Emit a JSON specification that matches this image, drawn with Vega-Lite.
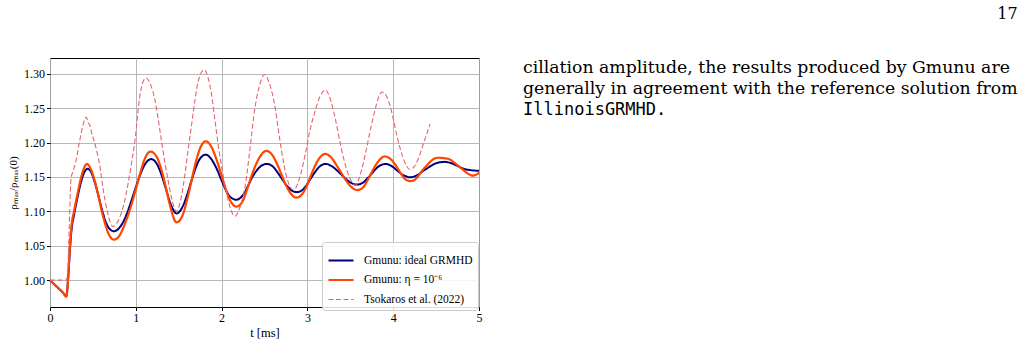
{
  "$schema": "https://vega.github.io/schema/vega-lite/v6.json",
  "padding": {"left": 7, "top": 5, "right": 5, "bottom": 5},
  "title": {"text": "17", "anchor": "end", "frame": "bounds", "font": "DejaVu Serif", "fontSize": 16, "fontWeight": "normal", "color": "#000", "offset": 36},
  "spacing": 39,
  "config": {
    "view": {"stroke": null},
    "axis": {"grid": true, "gridColor": "#b0b0b0", "gridWidth": 0.9, "domain": false, "tickColor": "#000", "tickSize": 3.5, "labelFont": "Liberation Serif", "labelFontSize": 12, "labelColor": "#000", "titleFont": "Liberation Serif", "titleFontSize": 11, "titleFontWeight": "normal", "titleColor": "#000", "labelPadding": 2},
    "legend": {"orient": "none", "legendX": 272, "legendY": 184, "fillColor": "rgba(255,255,255,0.85)", "strokeColor": "#cccccc", "cornerRadius": 3, "padding": 5, "labelFont": "Liberation Serif", "labelFontSize": 11.5, "labelColor": "#000", "symbolType": "stroke", "symbolSize": 625, "rowPadding": -2, "labelOffset": 9, "labelLimit": 300, "title": null}
  },
  "hconcat": [
    {
      "width": 429,
      "height": 249,
      "view": {"stroke": "#000", "strokeWidth": 1},
      "data": {"values": [
        {"series": "Gmunu: ideal GRMHD", "t": 0, "rho": 1.000},
        {"series": "Gmunu: ideal GRMHD", "t": 0.05, "rho": 0.994},
        {"series": "Gmunu: ideal GRMHD", "t": 0.10, "rho": 0.988},
        {"series": "Gmunu: ideal GRMHD", "t": 0.15, "rho": 0.982},
        {"series": "Gmunu: ideal GRMHD", "t": 0.19, "rho": 0.977},
        {"series": "Gmunu: ideal GRMHD", "t": 0.21, "rho": 1.000},
        {"series": "Gmunu: ideal GRMHD", "t": 0.23, "rho": 1.040},
        {"series": "Gmunu: ideal GRMHD", "t": 0.25, "rho": 1.072},
        {"series": "Gmunu: ideal GRMHD", "t": 0.28, "rho": 1.095},
        {"series": "Gmunu: ideal GRMHD", "t": 0.32, "rho": 1.120},
        {"series": "Gmunu: ideal GRMHD", "t": 0.36, "rho": 1.142},
        {"series": "Gmunu: ideal GRMHD", "t": 0.40, "rho": 1.157},
        {"series": "Gmunu: ideal GRMHD", "t": 0.44, "rho": 1.162},
        {"series": "Gmunu: ideal GRMHD", "t": 0.48, "rho": 1.157},
        {"series": "Gmunu: ideal GRMHD", "t": 0.52, "rho": 1.143},
        {"series": "Gmunu: ideal GRMHD", "t": 0.56, "rho": 1.125},
        {"series": "Gmunu: ideal GRMHD", "t": 0.60, "rho": 1.105},
        {"series": "Gmunu: ideal GRMHD", "t": 0.64, "rho": 1.088},
        {"series": "Gmunu: ideal GRMHD", "t": 0.68, "rho": 1.077},
        {"series": "Gmunu: ideal GRMHD", "t": 0.745, "rho": 1.071},
        {"series": "Gmunu: ideal GRMHD", "t": 0.80, "rho": 1.075},
        {"series": "Gmunu: ideal GRMHD", "t": 0.85, "rho": 1.084},
        {"series": "Gmunu: ideal GRMHD", "t": 0.90, "rho": 1.098},
        {"series": "Gmunu: ideal GRMHD", "t": 0.95, "rho": 1.116},
        {"series": "Gmunu: ideal GRMHD", "t": 1.00, "rho": 1.135},
        {"series": "Gmunu: ideal GRMHD", "t": 1.05, "rho": 1.153},
        {"series": "Gmunu: ideal GRMHD", "t": 1.10, "rho": 1.167},
        {"series": "Gmunu: ideal GRMHD", "t": 1.18, "rho": 1.176},
        {"series": "Gmunu: ideal GRMHD", "t": 1.25, "rho": 1.168},
        {"series": "Gmunu: ideal GRMHD", "t": 1.30, "rho": 1.153},
        {"series": "Gmunu: ideal GRMHD", "t": 1.35, "rho": 1.133},
        {"series": "Gmunu: ideal GRMHD", "t": 1.40, "rho": 1.113},
        {"series": "Gmunu: ideal GRMHD", "t": 1.475, "rho": 1.097},
        {"series": "Gmunu: ideal GRMHD", "t": 1.55, "rho": 1.108},
        {"series": "Gmunu: ideal GRMHD", "t": 1.60, "rho": 1.125},
        {"series": "Gmunu: ideal GRMHD", "t": 1.65, "rho": 1.145},
        {"series": "Gmunu: ideal GRMHD", "t": 1.70, "rho": 1.164},
        {"series": "Gmunu: ideal GRMHD", "t": 1.75, "rho": 1.177},
        {"series": "Gmunu: ideal GRMHD", "t": 1.817, "rho": 1.1825},
        {"series": "Gmunu: ideal GRMHD", "t": 1.88, "rho": 1.176},
        {"series": "Gmunu: ideal GRMHD", "t": 1.95, "rho": 1.160},
        {"series": "Gmunu: ideal GRMHD", "t": 2.00, "rho": 1.145},
        {"series": "Gmunu: ideal GRMHD", "t": 2.05, "rho": 1.131},
        {"series": "Gmunu: ideal GRMHD", "t": 2.10, "rho": 1.121},
        {"series": "Gmunu: ideal GRMHD", "t": 2.174, "rho": 1.117},
        {"series": "Gmunu: ideal GRMHD", "t": 2.25, "rho": 1.124},
        {"series": "Gmunu: ideal GRMHD", "t": 2.30, "rho": 1.135},
        {"series": "Gmunu: ideal GRMHD", "t": 2.35, "rho": 1.148},
        {"series": "Gmunu: ideal GRMHD", "t": 2.40, "rho": 1.158},
        {"series": "Gmunu: ideal GRMHD", "t": 2.45, "rho": 1.165},
        {"series": "Gmunu: ideal GRMHD", "t": 2.527, "rho": 1.169},
        {"series": "Gmunu: ideal GRMHD", "t": 2.60, "rho": 1.165},
        {"series": "Gmunu: ideal GRMHD", "t": 2.65, "rho": 1.157},
        {"series": "Gmunu: ideal GRMHD", "t": 2.70, "rho": 1.148},
        {"series": "Gmunu: ideal GRMHD", "t": 2.75, "rho": 1.139},
        {"series": "Gmunu: ideal GRMHD", "t": 2.80, "rho": 1.132},
        {"series": "Gmunu: ideal GRMHD", "t": 2.877, "rho": 1.128},
        {"series": "Gmunu: ideal GRMHD", "t": 2.95, "rho": 1.132},
        {"series": "Gmunu: ideal GRMHD", "t": 3.00, "rho": 1.140},
        {"series": "Gmunu: ideal GRMHD", "t": 3.05, "rho": 1.150},
        {"series": "Gmunu: ideal GRMHD", "t": 3.10, "rho": 1.159},
        {"series": "Gmunu: ideal GRMHD", "t": 3.15, "rho": 1.166},
        {"series": "Gmunu: ideal GRMHD", "t": 3.215, "rho": 1.169},
        {"series": "Gmunu: ideal GRMHD", "t": 3.28, "rho": 1.166},
        {"series": "Gmunu: ideal GRMHD", "t": 3.35, "rho": 1.159},
        {"series": "Gmunu: ideal GRMHD", "t": 3.40, "rho": 1.153},
        {"series": "Gmunu: ideal GRMHD", "t": 3.45, "rho": 1.147},
        {"series": "Gmunu: ideal GRMHD", "t": 3.50, "rho": 1.142},
        {"series": "Gmunu: ideal GRMHD", "t": 3.576, "rho": 1.139},
        {"series": "Gmunu: ideal GRMHD", "t": 3.65, "rho": 1.142},
        {"series": "Gmunu: ideal GRMHD", "t": 3.70, "rho": 1.148},
        {"series": "Gmunu: ideal GRMHD", "t": 3.75, "rho": 1.155},
        {"series": "Gmunu: ideal GRMHD", "t": 3.80, "rho": 1.162},
        {"series": "Gmunu: ideal GRMHD", "t": 3.85, "rho": 1.167},
        {"series": "Gmunu: ideal GRMHD", "t": 3.913, "rho": 1.169},
        {"series": "Gmunu: ideal GRMHD", "t": 3.98, "rho": 1.166},
        {"series": "Gmunu: ideal GRMHD", "t": 4.05, "rho": 1.159},
        {"series": "Gmunu: ideal GRMHD", "t": 4.10, "rho": 1.154},
        {"series": "Gmunu: ideal GRMHD", "t": 4.15, "rho": 1.151},
        {"series": "Gmunu: ideal GRMHD", "t": 4.193, "rho": 1.1495},
        {"series": "Gmunu: ideal GRMHD", "t": 4.25, "rho": 1.151},
        {"series": "Gmunu: ideal GRMHD", "t": 4.30, "rho": 1.154},
        {"series": "Gmunu: ideal GRMHD", "t": 4.35, "rho": 1.159},
        {"series": "Gmunu: ideal GRMHD", "t": 4.40, "rho": 1.163},
        {"series": "Gmunu: ideal GRMHD", "t": 4.45, "rho": 1.167},
        {"series": "Gmunu: ideal GRMHD", "t": 4.50, "rho": 1.170},
        {"series": "Gmunu: ideal GRMHD", "t": 4.60, "rho": 1.172},
        {"series": "Gmunu: ideal GRMHD", "t": 4.70, "rho": 1.169},
        {"series": "Gmunu: ideal GRMHD", "t": 4.75, "rho": 1.166},
        {"series": "Gmunu: ideal GRMHD", "t": 4.80, "rho": 1.163},
        {"series": "Gmunu: ideal GRMHD", "t": 4.85, "rho": 1.161},
        {"series": "Gmunu: ideal GRMHD", "t": 4.90, "rho": 1.160},
        {"series": "Gmunu: ideal GRMHD", "t": 5.00, "rho": 1.159},

        {"series": "Gmunu: η = 10⁻⁶", "t": 0, "rho": 1.000},
        {"series": "Gmunu: η = 10⁻⁶", "t": 0.05, "rho": 0.994},
        {"series": "Gmunu: η = 10⁻⁶", "t": 0.10, "rho": 0.988},
        {"series": "Gmunu: η = 10⁻⁶", "t": 0.15, "rho": 0.982},
        {"series": "Gmunu: η = 10⁻⁶", "t": 0.19, "rho": 0.976},
        {"series": "Gmunu: η = 10⁻⁶", "t": 0.21, "rho": 1.000},
        {"series": "Gmunu: η = 10⁻⁶", "t": 0.23, "rho": 1.045},
        {"series": "Gmunu: η = 10⁻⁶", "t": 0.25, "rho": 1.078},
        {"series": "Gmunu: η = 10⁻⁶", "t": 0.28, "rho": 1.100},
        {"series": "Gmunu: η = 10⁻⁶", "t": 0.32, "rho": 1.125},
        {"series": "Gmunu: η = 10⁻⁶", "t": 0.36, "rho": 1.148},
        {"series": "Gmunu: η = 10⁻⁶", "t": 0.40, "rho": 1.164},
        {"series": "Gmunu: η = 10⁻⁶", "t": 0.43, "rho": 1.169},
        {"series": "Gmunu: η = 10⁻⁶", "t": 0.47, "rho": 1.163},
        {"series": "Gmunu: η = 10⁻⁶", "t": 0.52, "rho": 1.145},
        {"series": "Gmunu: η = 10⁻⁶", "t": 0.56, "rho": 1.125},
        {"series": "Gmunu: η = 10⁻⁶", "t": 0.60, "rho": 1.102},
        {"series": "Gmunu: η = 10⁻⁶", "t": 0.64, "rho": 1.083},
        {"series": "Gmunu: η = 10⁻⁶", "t": 0.68, "rho": 1.068},
        {"series": "Gmunu: η = 10⁻⁶", "t": 0.745, "rho": 1.059},
        {"series": "Gmunu: η = 10⁻⁶", "t": 0.80, "rho": 1.063},
        {"series": "Gmunu: η = 10⁻⁶", "t": 0.85, "rho": 1.075},
        {"series": "Gmunu: η = 10⁻⁶", "t": 0.90, "rho": 1.091},
        {"series": "Gmunu: η = 10⁻⁶", "t": 0.95, "rho": 1.110},
        {"series": "Gmunu: η = 10⁻⁶", "t": 1.00, "rho": 1.132},
        {"series": "Gmunu: η = 10⁻⁶", "t": 1.05, "rho": 1.155},
        {"series": "Gmunu: η = 10⁻⁶", "t": 1.10, "rho": 1.175},
        {"series": "Gmunu: η = 10⁻⁶", "t": 1.17, "rho": 1.187},
        {"series": "Gmunu: η = 10⁻⁶", "t": 1.24, "rho": 1.180},
        {"series": "Gmunu: η = 10⁻⁶", "t": 1.30, "rho": 1.160},
        {"series": "Gmunu: η = 10⁻⁶", "t": 1.35, "rho": 1.135},
        {"series": "Gmunu: η = 10⁻⁶", "t": 1.40, "rho": 1.108},
        {"series": "Gmunu: η = 10⁻⁶", "t": 1.475, "rho": 1.084},
        {"series": "Gmunu: η = 10⁻⁶", "t": 1.55, "rho": 1.096},
        {"series": "Gmunu: η = 10⁻⁶", "t": 1.60, "rho": 1.118},
        {"series": "Gmunu: η = 10⁻⁶", "t": 1.65, "rho": 1.145},
        {"series": "Gmunu: η = 10⁻⁶", "t": 1.70, "rho": 1.172},
        {"series": "Gmunu: η = 10⁻⁶", "t": 1.75, "rho": 1.192},
        {"series": "Gmunu: η = 10⁻⁶", "t": 1.817, "rho": 1.202},
        {"series": "Gmunu: η = 10⁻⁶", "t": 1.88, "rho": 1.194},
        {"series": "Gmunu: η = 10⁻⁶", "t": 1.95, "rho": 1.172},
        {"series": "Gmunu: η = 10⁻⁶", "t": 2.00, "rho": 1.152},
        {"series": "Gmunu: η = 10⁻⁶", "t": 2.05, "rho": 1.132},
        {"series": "Gmunu: η = 10⁻⁶", "t": 2.10, "rho": 1.116},
        {"series": "Gmunu: η = 10⁻⁶", "t": 2.174, "rho": 1.107},
        {"series": "Gmunu: η = 10⁻⁶", "t": 2.25, "rho": 1.116},
        {"series": "Gmunu: η = 10⁻⁶", "t": 2.30, "rho": 1.133},
        {"series": "Gmunu: η = 10⁻⁶", "t": 2.35, "rho": 1.152},
        {"series": "Gmunu: η = 10⁻⁶", "t": 2.40, "rho": 1.168},
        {"series": "Gmunu: η = 10⁻⁶", "t": 2.45, "rho": 1.180},
        {"series": "Gmunu: η = 10⁻⁶", "t": 2.52, "rho": 1.188},
        {"series": "Gmunu: η = 10⁻⁶", "t": 2.59, "rho": 1.182},
        {"series": "Gmunu: η = 10⁻⁶", "t": 2.65, "rho": 1.168},
        {"series": "Gmunu: η = 10⁻⁶", "t": 2.70, "rho": 1.153},
        {"series": "Gmunu: η = 10⁻⁶", "t": 2.75, "rho": 1.138},
        {"series": "Gmunu: η = 10⁻⁶", "t": 2.80, "rho": 1.127},
        {"series": "Gmunu: η = 10⁻⁶", "t": 2.87, "rho": 1.120},
        {"series": "Gmunu: η = 10⁻⁶", "t": 2.95, "rho": 1.127},
        {"series": "Gmunu: η = 10⁻⁶", "t": 3.00, "rho": 1.139},
        {"series": "Gmunu: η = 10⁻⁶", "t": 3.05, "rho": 1.155},
        {"series": "Gmunu: η = 10⁻⁶", "t": 3.10, "rho": 1.169},
        {"series": "Gmunu: η = 10⁻⁶", "t": 3.15, "rho": 1.179},
        {"series": "Gmunu: η = 10⁻⁶", "t": 3.21, "rho": 1.1835},
        {"series": "Gmunu: η = 10⁻⁶", "t": 3.28, "rho": 1.178},
        {"series": "Gmunu: η = 10⁻⁶", "t": 3.35, "rho": 1.165},
        {"series": "Gmunu: η = 10⁻⁶", "t": 3.40, "rho": 1.155},
        {"series": "Gmunu: η = 10⁻⁶", "t": 3.45, "rho": 1.145},
        {"series": "Gmunu: η = 10⁻⁶", "t": 3.50, "rho": 1.137},
        {"series": "Gmunu: η = 10⁻⁶", "t": 3.58, "rho": 1.131},
        {"series": "Gmunu: η = 10⁻⁶", "t": 3.65, "rho": 1.135},
        {"series": "Gmunu: η = 10⁻⁶", "t": 3.70, "rho": 1.145},
        {"series": "Gmunu: η = 10⁻⁶", "t": 3.75, "rho": 1.157},
        {"series": "Gmunu: η = 10⁻⁶", "t": 3.80, "rho": 1.168},
        {"series": "Gmunu: η = 10⁻⁶", "t": 3.85, "rho": 1.176},
        {"series": "Gmunu: η = 10⁻⁶", "t": 3.90, "rho": 1.180},
        {"series": "Gmunu: η = 10⁻⁶", "t": 3.97, "rho": 1.176},
        {"series": "Gmunu: η = 10⁻⁶", "t": 4.05, "rho": 1.163},
        {"series": "Gmunu: η = 10⁻⁶", "t": 4.10, "rho": 1.153},
        {"series": "Gmunu: η = 10⁻⁶", "t": 4.15, "rho": 1.146},
        {"series": "Gmunu: η = 10⁻⁶", "t": 4.20, "rho": 1.144},
        {"series": "Gmunu: η = 10⁻⁶", "t": 4.27, "rho": 1.148},
        {"series": "Gmunu: η = 10⁻⁶", "t": 4.33, "rho": 1.158},
        {"series": "Gmunu: η = 10⁻⁶", "t": 4.40, "rho": 1.168},
        {"series": "Gmunu: η = 10⁻⁶", "t": 4.47, "rho": 1.176},
        {"series": "Gmunu: η = 10⁻⁶", "t": 4.52, "rho": 1.178},
        {"series": "Gmunu: η = 10⁻⁶", "t": 4.58, "rho": 1.1775},
        {"series": "Gmunu: η = 10⁻⁶", "t": 4.65, "rho": 1.176},
        {"series": "Gmunu: η = 10⁻⁶", "t": 4.72, "rho": 1.170},
        {"series": "Gmunu: η = 10⁻⁶", "t": 4.80, "rho": 1.162},
        {"series": "Gmunu: η = 10⁻⁶", "t": 4.87, "rho": 1.155},
        {"series": "Gmunu: η = 10⁻⁶", "t": 4.93, "rho": 1.152},
        {"series": "Gmunu: η = 10⁻⁶", "t": 5.00, "rho": 1.156},

        {"series": "Tsokaros et al. (2022)", "t": 0, "rho": 1.000},
        {"series": "Tsokaros et al. (2022)", "t": 0.10, "rho": 1.000},
        {"series": "Tsokaros et al. (2022)", "t": 0.19, "rho": 1.000},
        {"series": "Tsokaros et al. (2022)", "t": 0.205, "rho": 1.012},
        {"series": "Tsokaros et al. (2022)", "t": 0.225, "rho": 1.080},
        {"series": "Tsokaros et al. (2022)", "t": 0.245, "rho": 1.148},
        {"series": "Tsokaros et al. (2022)", "t": 0.268, "rho": 1.158},
        {"series": "Tsokaros et al. (2022)", "t": 0.30, "rho": 1.172},
        {"series": "Tsokaros et al. (2022)", "t": 0.345, "rho": 1.202},
        {"series": "Tsokaros et al. (2022)", "t": 0.39, "rho": 1.228},
        {"series": "Tsokaros et al. (2022)", "t": 0.423, "rho": 1.237},
        {"series": "Tsokaros et al. (2022)", "t": 0.445, "rho": 1.229},
        {"series": "Tsokaros et al. (2022)", "t": 0.462, "rho": 1.226},
        {"series": "Tsokaros et al. (2022)", "t": 0.49, "rho": 1.212},
        {"series": "Tsokaros et al. (2022)", "t": 0.52, "rho": 1.200},
        {"series": "Tsokaros et al. (2022)", "t": 0.55, "rho": 1.185},
        {"series": "Tsokaros et al. (2022)", "t": 0.578, "rho": 1.168},
        {"series": "Tsokaros et al. (2022)", "t": 0.617, "rho": 1.134},
        {"series": "Tsokaros et al. (2022)", "t": 0.668, "rho": 1.100},
        {"series": "Tsokaros et al. (2022)", "t": 0.734, "rho": 1.078},
        {"series": "Tsokaros et al. (2022)", "t": 0.811, "rho": 1.091},
        {"series": "Tsokaros et al. (2022)", "t": 0.86, "rho": 1.110},
        {"series": "Tsokaros et al. (2022)", "t": 0.908, "rho": 1.139},
        {"series": "Tsokaros et al. (2022)", "t": 0.95, "rho": 1.170},
        {"series": "Tsokaros et al. (2022)", "t": 0.994, "rho": 1.207},
        {"series": "Tsokaros et al. (2022)", "t": 1.044, "rho": 1.265},
        {"series": "Tsokaros et al. (2022)", "t": 1.08, "rho": 1.287},
        {"series": "Tsokaros et al. (2022)", "t": 1.118, "rho": 1.294},
        {"series": "Tsokaros et al. (2022)", "t": 1.17, "rho": 1.285},
        {"series": "Tsokaros et al. (2022)", "t": 1.223, "rho": 1.262},
        {"series": "Tsokaros et al. (2022)", "t": 1.26, "rho": 1.235},
        {"series": "Tsokaros et al. (2022)", "t": 1.30, "rho": 1.202},
        {"series": "Tsokaros et al. (2022)", "t": 1.34, "rho": 1.170},
        {"series": "Tsokaros et al. (2022)", "t": 1.378, "rho": 1.144},
        {"series": "Tsokaros et al. (2022)", "t": 1.42, "rho": 1.118},
        {"series": "Tsokaros et al. (2022)", "t": 1.475, "rho": 1.100},
        {"series": "Tsokaros et al. (2022)", "t": 1.52, "rho": 1.115},
        {"series": "Tsokaros et al. (2022)", "t": 1.572, "rho": 1.153},
        {"series": "Tsokaros et al. (2022)", "t": 1.61, "rho": 1.190},
        {"series": "Tsokaros et al. (2022)", "t": 1.65, "rho": 1.226},
        {"series": "Tsokaros et al. (2022)", "t": 1.69, "rho": 1.262},
        {"series": "Tsokaros et al. (2022)", "t": 1.727, "rho": 1.289},
        {"series": "Tsokaros et al. (2022)", "t": 1.797, "rho": 1.306},
        {"series": "Tsokaros et al. (2022)", "t": 1.84, "rho": 1.295},
        {"series": "Tsokaros et al. (2022)", "t": 1.883, "rho": 1.270},
        {"series": "Tsokaros et al. (2022)", "t": 1.92, "rho": 1.235},
        {"series": "Tsokaros et al. (2022)", "t": 1.96, "rho": 1.197},
        {"series": "Tsokaros et al. (2022)", "t": 2.00, "rho": 1.165},
        {"series": "Tsokaros et al. (2022)", "t": 2.038, "rho": 1.139},
        {"series": "Tsokaros et al. (2022)", "t": 2.09, "rho": 1.110},
        {"series": "Tsokaros et al. (2022)", "t": 2.155, "rho": 1.093},
        {"series": "Tsokaros et al. (2022)", "t": 2.21, "rho": 1.105},
        {"series": "Tsokaros et al. (2022)", "t": 2.271, "rho": 1.134},
        {"series": "Tsokaros et al. (2022)", "t": 2.33, "rho": 1.190},
        {"series": "Tsokaros et al. (2022)", "t": 2.388, "rho": 1.250},
        {"series": "Tsokaros et al. (2022)", "t": 2.44, "rho": 1.282},
        {"series": "Tsokaros et al. (2022)", "t": 2.50, "rho": 1.299},
        {"series": "Tsokaros et al. (2022)", "t": 2.56, "rho": 1.285},
        {"series": "Tsokaros et al. (2022)", "t": 2.625, "rho": 1.250},
        {"series": "Tsokaros et al. (2022)", "t": 2.66, "rho": 1.220},
        {"series": "Tsokaros et al. (2022)", "t": 2.70, "rho": 1.187},
        {"series": "Tsokaros et al. (2022)", "t": 2.76, "rho": 1.149},
        {"series": "Tsokaros et al. (2022)", "t": 2.84, "rho": 1.131},
        {"series": "Tsokaros et al. (2022)", "t": 2.90, "rho": 1.145},
        {"series": "Tsokaros et al. (2022)", "t": 2.974, "rho": 1.1825},
        {"series": "Tsokaros et al. (2022)", "t": 3.03, "rho": 1.218},
        {"series": "Tsokaros et al. (2022)", "t": 3.09, "rho": 1.2457},
        {"series": "Tsokaros et al. (2022)", "t": 3.15, "rho": 1.268},
        {"series": "Tsokaros et al. (2022)", "t": 3.21, "rho": 1.2765},
        {"series": "Tsokaros et al. (2022)", "t": 3.27, "rho": 1.262},
        {"series": "Tsokaros et al. (2022)", "t": 3.323, "rho": 1.236},
        {"series": "Tsokaros et al. (2022)", "t": 3.37, "rho": 1.207},
        {"series": "Tsokaros et al. (2022)", "t": 3.42, "rho": 1.178},
        {"series": "Tsokaros et al. (2022)", "t": 3.49, "rho": 1.150},
        {"series": "Tsokaros et al. (2022)", "t": 3.56, "rho": 1.138},
        {"series": "Tsokaros et al. (2022)", "t": 3.62, "rho": 1.155},
        {"series": "Tsokaros et al. (2022)", "t": 3.68, "rho": 1.186},
        {"series": "Tsokaros et al. (2022)", "t": 3.727, "rho": 1.214},
        {"series": "Tsokaros et al. (2022)", "t": 3.785, "rho": 1.246},
        {"series": "Tsokaros et al. (2022)", "t": 3.83, "rho": 1.266},
        {"series": "Tsokaros et al. (2022)", "t": 3.87, "rho": 1.2735},
        {"series": "Tsokaros et al. (2022)", "t": 3.92, "rho": 1.268},
        {"series": "Tsokaros et al. (2022)", "t": 3.96, "rho": 1.255},
        {"series": "Tsokaros et al. (2022)", "t": 4.00, "rho": 1.235},
        {"series": "Tsokaros et al. (2022)", "t": 4.04, "rho": 1.2116},
        {"series": "Tsokaros et al. (2022)", "t": 4.08, "rho": 1.192},
        {"series": "Tsokaros et al. (2022)", "t": 4.115, "rho": 1.178},
        {"series": "Tsokaros et al. (2022)", "t": 4.16, "rho": 1.165},
        {"series": "Tsokaros et al. (2022)", "t": 4.197, "rho": 1.161},
        {"series": "Tsokaros et al. (2022)", "t": 4.25, "rho": 1.166},
        {"series": "Tsokaros et al. (2022)", "t": 4.31, "rho": 1.1825},
        {"series": "Tsokaros et al. (2022)", "t": 4.37, "rho": 1.205},
        {"series": "Tsokaros et al. (2022)", "t": 4.43, "rho": 1.227}
      ]},
      "mark": {"type": "line", "interpolate": "monotone"},
      "encoding": {
        "x": {"field": "t", "type": "quantitative", "scale": {"domain": [0, 5], "nice": false}, "axis": {"values": [0, 1, 2, 3, 4, 5], "format": "d", "title": "t [ms]", "titleFontSize": 12.5, "labelFlush": false, "titlePadding": 3}},
        "y": {"field": "rho", "type": "quantitative", "scale": {"domain": [0.961, 1.323], "nice": false, "zero": false}, "axis": {"values": [1.0, 1.05, 1.1, 1.15, 1.2, 1.25, 1.3], "format": ".2f", "title": "ρₘₐₓ/ρₘₐₓ(0)", "titlePadding": 5}},
        "color": {"field": "series", "type": "nominal", "scale": {"domain": ["Gmunu: ideal GRMHD", "Gmunu: η = 10⁻⁶", "Tsokaros et al. (2022)"], "range": ["#00007f", "#ff4500", "#e8636c"]}},
        "strokeDash": {"field": "series", "type": "nominal", "scale": {"domain": ["Gmunu: ideal GRMHD", "Gmunu: η = 10⁻⁶", "Tsokaros et al. (2022)"], "range": [[1, 0], [1, 0], [5, 2.5]]}},
        "strokeWidth": {"field": "series", "type": "nominal", "scale": {"type": "ordinal", "domain": ["Gmunu: ideal GRMHD", "Gmunu: η = 10⁻⁶", "Tsokaros et al. (2022)"], "range": [2, 2.2, 1.1]}}
      }
    },
    {
      "width": 492,
      "height": 249,
      "layer": [
        {
          "data": {"values": [
            {"line": 1, "text": "cillation amplitude, the results produced by Gmunu are"},
            {"line": 2, "text": "generally in agreement with the reference solution from"}
          ]},
          "mark": {"type": "text", "align": "left", "baseline": "alphabetic", "font": "DejaVu Serif", "fontSize": 17.3, "color": "#000"},
          "encoding": {
            "x": {"datum": 0, "type": "quantitative", "scale": {"domain": [0, 1]}, "axis": null},
            "y": {"field": "line", "type": "quantitative", "scale": {"domain": [1, 3], "range": [15, 57]}, "axis": null},
            "text": {"field": "text"}
          }
        },
        {
          "data": {"values": [
            {"line": 3, "text": "IllinoisGRMHD."}
          ]},
          "mark": {"type": "text", "align": "left", "baseline": "alphabetic", "font": "DejaVu Sans Mono", "fontSize": 17, "color": "#000"},
          "encoding": {
            "x": {"datum": 0, "type": "quantitative", "axis": null},
            "y": {"field": "line", "type": "quantitative", "axis": null},
            "text": {"field": "text"}
          }
        }
      ]
    }
  ]
}
